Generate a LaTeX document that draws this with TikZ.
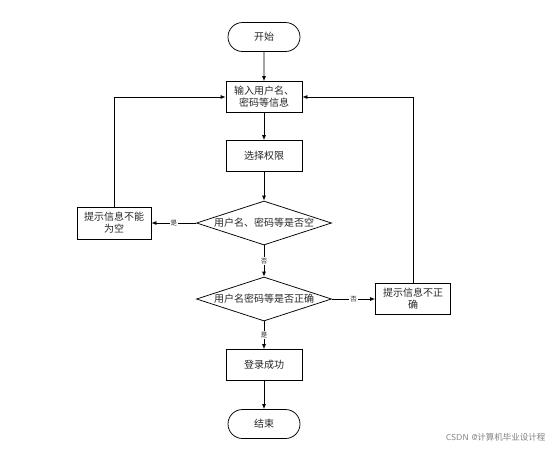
\documentclass[tikz,border=0pt]{standalone}
\usepackage{fontspec}
\newfontfamily\cjk{Noto Sans CJK SC}
\usetikzlibrary{shapes.geometric,shapes.misc,arrows.meta}
\begin{document}
\begin{tikzpicture}[x=1pt,y=-1pt,
  every node/.style={font=\cjk\fontsize{10}{12}\selectfont, text=black!85},
  term/.style={draw, rounded rectangle, minimum width=74pt, minimum height=29pt, inner sep=1pt, line width=0.75pt},
  proc/.style={draw, rectangle, minimum width=76pt, minimum height=31pt, inner sep=1pt, align=center, line width=0.75pt, text width=70pt},
  decide/.style={draw, diamond, minimum width=135pt, minimum height=44pt, inner sep=-1pt, shape aspect=3.1, line width=0.75pt},
  lbl/.style={font=\cjk\fontsize{6.5}{7}\selectfont, fill=white, inner sep=1pt},
  arr/.style={line width=0.75pt, -{Latex[length=5pt,width=4pt]}},
  ln/.style={line width=0.75pt}]
\useasboundingbox (0,0) rectangle (552,448);
\node[term] (start) at (264,37) {开始};
\node[proc] (input) at (264,97) {输入用户名、\\密码等信息};
\node[proc] (role) at (264,156) {选择权限};
\node[decide] (d1) at (264,223) {用户名、密码等是否空};
\node[proc, minimum width=74pt, minimum height=32pt] (empty) at (114,223) {提示信息不能\\为空};
\node[decide] (d2) at (264,299) {用户名密码等是否正确};
\node[proc, minimum width=75pt, minimum height=31pt] (wrong) at (413,299) {提示信息不正\\确};
\node[proc] (ok) at (264,365) {登录成功};
\node[term] (end) at (264,424) {结束};
\coordinate (lc) at (114,97);
\coordinate (rc) at (413,97);
\draw[arr] (start) -- (input);
\draw[arr] (input) -- (role);
\draw[arr] (role) -- (d1);
\draw[arr] (d1) -- node[lbl]{是} (empty);
\draw[arr] (d1) -- node[lbl]{否} (d2);
\draw[arr] (d2) -- node[lbl]{否} (wrong);
\draw[arr] (d2) -- node[lbl]{是} (ok);
\draw[arr] (ok) -- (end);
\draw[ln] (empty.north) -- (lc);
\draw[arr] (lc) -- (input.west);
\draw[ln] (wrong.north) -- (rc);
\draw[arr] (rc) -- (input.east);
\node[font=\fontsize{8.5}{9}\selectfont, text=black!50, anchor=east] (wm) at (549,437) {\sffamily CSDN @\cjk 计算机毕业设计程};
\end{tikzpicture}
\end{document}
